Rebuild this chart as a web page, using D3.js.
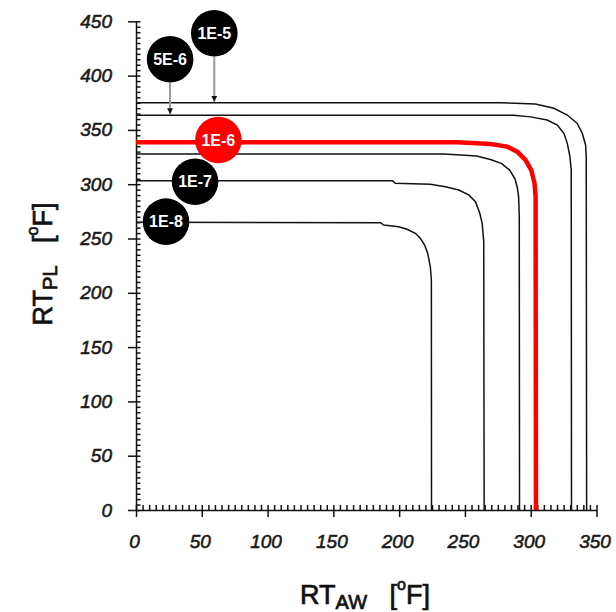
<html>
<head>
  <style>
    body { margin: 0px; padding: 0px; background-color: white; }
    svg { display: block; }
    .tick text { font-family: "Liberation Sans", Arial, sans-serif; font-style: italic; font-size: 19px; fill: #1a1a1a; stroke: #1a1a1a; stroke-width: 0.55px; }
    .axis path, .axis line { stroke: #111; stroke-width: 1.5px; }
    .title { font-family: "Liberation Sans", Arial, sans-serif; font-size: 27px; fill: #111; stroke: #111; stroke-width: 0.7px; }
    .badge text { font-family: "Liberation Sans", Arial, sans-serif; font-weight: bold; font-size: 16px; fill: white; }
  </style>
</head>
<body>
  <div id="chart"></div>
  <script src="https://cdnjs.cloudflare.com/ajax/libs/d3/7.8.5/d3.min.js"></script>
  <script>
    // curves: [RT_AW, RT_PL] in degF
    var curve1E5 = [[0,375],[277,375],[303.6,373.8],[317.6,369.9],[327.8,363.7],[335.4,356],[339.2,346.9],[341.7,336.1],[342.2,325.3],[342.5,0]];
    var curve5E6 = [[0,363.6],[287,363.6],[300,362],[312.5,359.1],[320.2,354.5],[325.2,346.9],[327.8,337.6],[329.8,325.3],[330.8,313],[331,0]];
    var curve1E6 = [[0,338.6],[244,338.6],[269.4,337],[282.1,334.6],[289.7,330],[296,322.3],[300.4,313],[302.9,300.8],[303.7,288.5],[304,0]];
    var curveMid = [[0,327.8],[234,327.8],[259,326],[270,322.5],[278,319],[284,313],[288,305],[289.8,297],[290.8,288.5],[291.3,270],[291.5,0]];
    var curve1E7 = [[0,303.2],[195,303.2],[197.1,300.8],[223.7,299.9],[235.2,297.7],[245.3,294.7],[252.9,290.1],[258,283.9],[261.3,273.2],[263.1,264],[264.3,247.1],[264.6,0]];
    var curve1E8 = [[0,265],[186,264.5],[188.2,262.4],[199.6,260.9],[206,258.5],[212.3,254.8],[216.1,250.2],[219.4,244],[221.7,236.4],[223.7,224],[224.5,211.8],[224.6,0]];

    var blackCurves = [curve1E5, curve5E6, curveMid, curve1E7, curve1E8];
    var redCurve = curve1E6;

    // labels on the curves (centre in data units, arrowTo = level the arrow points at)
    var badgeNames = ["1E-5", "5E-6", "1E-6", "1E-7", "1E-8"];
    var badgeAt = [[59.5,439], [25.9,415], [62.6,340.7], [44.9,302.3], [22.8,265.5]];
    var badgeArrowTo = [375, 363.6, null, null, null];
    var badgeRed = [false, false, true, false, false];

    var xTicks = [0, 50, 100, 150, 200, 250, 300, 350];
    var yTicks = [0, 50, 100, 150, 200, 250, 300, 350, 400, 450];

    var W = 616, H = 612;
    var svg = d3.select('#chart').append('svg')
      .attr('width', W)
      .attr('height', H);

    var x = d3.scaleLinear().domain([0, 350]).range([136, 596.5]);
    var y = d3.scaleLinear().domain([0, 450]).range([510, 21.3]);

    svg.append('defs').append('marker')
      .attr('id', 'head')
      .attr('viewBox', '0 0 10 10')
      .attr('refX', 10).attr('refY', 5)
      .attr('markerWidth', 3).attr('markerHeight', 3)
      .attr('markerUnits', 'strokeWidth')
      .attr('orient', 'auto')
      .append('path').attr('d', 'M0,0 L10,5 L0,10 z').attr('fill', '#111');

    // minor ticks (inside)
    svg.append('g').attr('class', 'axis')
      .attr('transform', 'translate(0,' + y(0) + ')')
      .call(d3.axisBottom(x).tickValues(d3.range(0, 351, 5)).tickSize(-5).tickSizeOuter(0).tickFormat(''))
      .select('.domain').remove();
    svg.append('g').attr('class', 'axis')
      .attr('transform', 'translate(' + x(0) + ',0)')
      .call(d3.axisLeft(y).tickValues(d3.range(0, 451, 5)).tickSize(-4.5).tickSizeOuter(0).tickFormat(''))
      .select('.domain').remove();

    // major ticks + labels
    svg.append('g').attr('class', 'axis')
      .attr('transform', 'translate(0,' + y(0) + ')')
      .call(d3.axisBottom(x).tickValues(xTicks).tickSize(7).tickSizeOuter(0).tickPadding(18).tickFormat(d3.format('d')))
      .selectAll('.tick text').attr('dx', -2);
    svg.append('g').attr('class', 'axis')
      .attr('transform', 'translate(' + x(0) + ',0)')
      .call(d3.axisLeft(y).tickValues(yTicks).tickSize(8).tickSizeOuter(0).tickPadding(16).tickFormat(d3.format('d')));

    var line = d3.line()
      .x(function(d) { return x(d[0]); })
      .y(function(d) { return y(d[1]); });

    svg.selectAll('path.curve')
      .data(blackCurves)
      .enter()
      .append('path')
      .attr('class', 'curve')
      .attr('d', line)
      .attr('fill', 'none')
      .attr('stroke', '#111')
      .attr('stroke-width', 1.5);

    svg.append('path')
      .attr('d', line(redCurve))
      .attr('fill', 'none')
      .attr('stroke', '#ff0000')
      .attr('stroke-width', 4.5);

    // arrows from badges down to their lines
    var r = 23.3;
    badgeNames.forEach(function(name, i) {
      if (badgeArrowTo[i] == null) return;
      svg.append('line')
        .attr('x1', x(badgeAt[i][0])).attr('y1', y(badgeAt[i][1]) + r)
        .attr('x2', x(badgeAt[i][0])).attr('y2', y(badgeArrowTo[i]) - 1)
        .attr('stroke', '#9a9a9a')
        .attr('stroke-width', 2)
        .attr('marker-end', 'url(#head)');
    });

    var badge = svg.selectAll('g.badge')
      .data(badgeNames)
      .enter()
      .append('g')
      .attr('class', 'badge')
      .attr('transform', function(d, i) {
        return 'translate(' + x(badgeAt[i][0]) + ',' + y(badgeAt[i][1]) + ')';
      });
    badge.append('circle')
      .attr('r', r)
      .attr('fill', function(d, i) { return badgeRed[i] ? '#ff0000' : '#000'; });
    badge.append('text')
      .attr('text-anchor', 'middle')
      .attr('dy', '0.36em')
      .text(function(d) { return d; });

    // axis titles
    function title(t, sub) {
      t.append('tspan').text('RT');
      t.append('tspan').attr('font-size', 20).attr('dy', 5).text(sub);
      t.append('tspan').attr('dy', -5).text('\u00a0\u00a0 [');
      t.append('tspan').attr('font-size', 16).attr('dy', -14).text('o');
      t.append('tspan').attr('dy', 14).text('F]');
    }
    svg.append('text').attr('class', 'title')
      .attr('text-anchor', 'middle')
      .attr('x', 365).attr('y', 604)
      .call(title, 'AW');
    svg.append('text').attr('class', 'title')
      .attr('text-anchor', 'middle')
      .attr('transform', 'translate(52,264) rotate(-90)')
      .call(title, 'PL');
  </script>
</body>
</html>
